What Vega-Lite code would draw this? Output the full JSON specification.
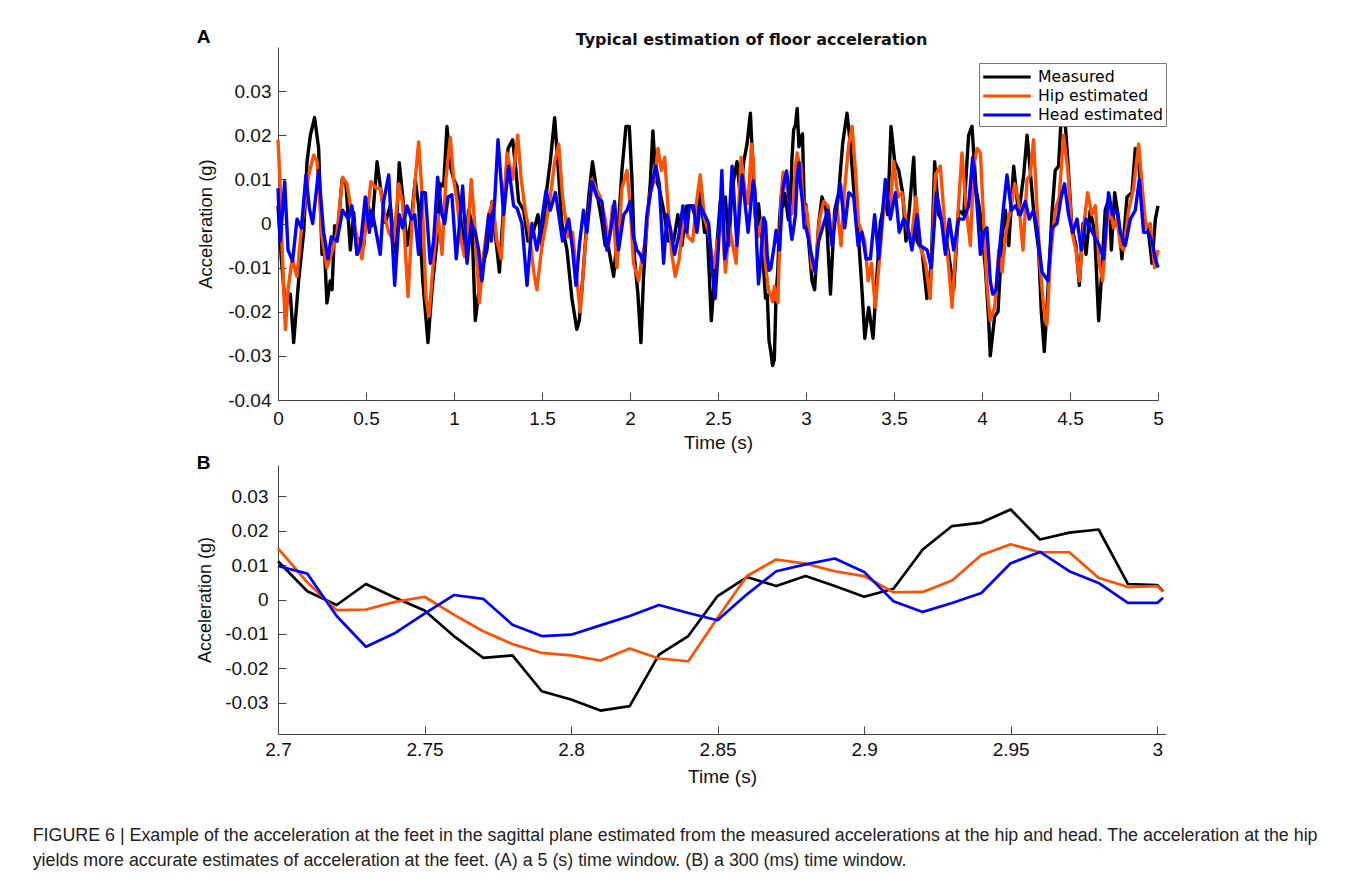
{
"$schema": "https://vega.github.io/schema/vega-lite/v6.json",
"background": "white",
"padding": {"left": 32, "top": 28, "right": 0, "bottom": 0},
"config": {
  "view": {"stroke": null},
  "axis": {"domainColor": "#444", "tickColor": "#444", "labelColor": "#111", "titleColor": "#111", "labelFont": "Liberation Sans", "titleFont": "Liberation Sans", "labelFontSize": 19, "titleFontSize": 18, "titleFontWeight": "normal", "grid": false, "tickSize": -8, "domainWidth": 1, "tickWidth": 1, "labelFlush": false, "labelOverlap": false}
},
"resolve": {"scale": {"color": "independent"}},
"spacing": 2,
"title": {"text": ["FIGURE 6 | Example of the acceleration at the feet in the sagittal plane estimated from the measured accelerations at the hip and head. The acceleration at the hip", "yields more accurate estimates of acceleration at the feet. (A) a 5 (s) time window. (B) a 300 (ms) time window."], "orient": "bottom", "anchor": "start", "dx": -164, "offset": 41, "fontSize": 17.85, "font": "Liberation Sans", "fontWeight": "normal", "color": "#222", "lineHeight": 25},
"datasets": {
"A": [
{"s":"Measured","t":0,"v":0.004},{"s":"Measured","t":0.019,"v":-0.008},{"s":"Measured","t":0.042,"v":-0.019},{"s":"Measured","t":0.07,"v":-0.016},{"s":"Measured","t":0.089,"v":-0.027},{"s":"Measured","t":0.117,"v":-0.013},{"s":"Measured","t":0.146,"v":-0.002},{"s":"Measured","t":0.165,"v":0.014},{"s":"Measured","t":0.184,"v":0.02},{"s":"Measured","t":0.208,"v":0.024},{"s":"Measured","t":0.231,"v":0.017},{"s":"Measured","t":0.25,"v":-0.007},{"s":"Measured","t":0.265,"v":-0.0065},{"s":"Measured","t":0.278,"v":-0.018},{"s":"Measured","t":0.297,"v":-0.013},{"s":"Measured","t":0.307,"v":-0.015},{"s":"Measured","t":0.322,"v":-0.0005},{"s":"Measured","t":0.335,"v":-0.004},{"s":"Measured","t":0.364,"v":0.01},{"s":"Measured","t":0.386,"v":0.009},{"s":"Measured","t":0.411,"v":-0.006},{"s":"Measured","t":0.43,"v":0.0025},{"s":"Measured","t":0.449,"v":-0.007},{"s":"Measured","t":0.468,"v":-0.0035},{"s":"Measured","t":0.487,"v":-0.005},{"s":"Measured","t":0.506,"v":0.0055},{"s":"Measured","t":0.534,"v":-0.0005},{"s":"Measured","t":0.563,"v":0.014},{"s":"Measured","t":0.581,"v":0.0085},{"s":"Measured","t":0.61,"v":0.0002},{"s":"Measured","t":0.638,"v":0.004},{"s":"Measured","t":0.667,"v":-0.0066},{"s":"Measured","t":0.689,"v":0.0138},{"s":"Measured","t":0.708,"v":0.0063},{"s":"Measured","t":0.733,"v":-0.005},{"s":"Measured","t":0.758,"v":0.001},{"s":"Measured","t":0.78,"v":0.01},{"s":"Measured","t":0.799,"v":0.004},{"s":"Measured","t":0.822,"v":-0.0126},{"s":"Measured","t":0.852,"v":-0.027},{"s":"Measured","t":0.875,"v":-0.015},{"s":"Measured","t":0.903,"v":-0.004},{"s":"Measured","t":0.922,"v":0.009},{"s":"Measured","t":0.941,"v":0.0085},{"s":"Measured","t":0.96,"v":0.022},{"s":"Measured","t":0.979,"v":0.013},{"s":"Measured","t":0.998,"v":0.01},{"s":"Measured","t":1.017,"v":0.0085},{"s":"Measured","t":1.041,"v":0},{"s":"Measured","t":1.064,"v":-0.006},{"s":"Measured","t":1.083,"v":0.003},{"s":"Measured","t":1.102,"v":0},{"s":"Measured","t":1.121,"v":-0.022},{"s":"Measured","t":1.136,"v":-0.017},{"s":"Measured","t":1.159,"v":-0.01},{"s":"Measured","t":1.187,"v":-0.006},{"s":"Measured","t":1.216,"v":0.005},{"s":"Measured","t":1.239,"v":-0.004},{"s":"Measured","t":1.258,"v":-0.011},{"s":"Measured","t":1.282,"v":0.004},{"s":"Measured","t":1.307,"v":0.017},{"s":"Measured","t":1.333,"v":0.019},{"s":"Measured","t":1.352,"v":0.012},{"s":"Measured","t":1.367,"v":0.005},{"s":"Measured","t":1.396,"v":0.003},{"s":"Measured","t":1.42,"v":-0.004},{"s":"Measured","t":1.443,"v":-0.003},{"s":"Measured","t":1.477,"v":0.002},{"s":"Measured","t":1.5,"v":-0.005},{"s":"Measured","t":1.528,"v":0.008},{"s":"Measured","t":1.547,"v":0.014},{"s":"Measured","t":1.572,"v":0.024},{"s":"Measured","t":1.591,"v":0.013},{"s":"Measured","t":1.613,"v":0},{"s":"Measured","t":1.642,"v":-0.006},{"s":"Measured","t":1.67,"v":-0.017},{"s":"Measured","t":1.698,"v":-0.024},{"s":"Measured","t":1.712,"v":-0.022},{"s":"Measured","t":1.736,"v":-0.01},{"s":"Measured","t":1.765,"v":0.006},{"s":"Measured","t":1.787,"v":0.014},{"s":"Measured","t":1.812,"v":0.007},{"s":"Measured","t":1.84,"v":0.0005},{"s":"Measured","t":1.859,"v":-0.005},{"s":"Measured","t":1.878,"v":-0.0055},{"s":"Measured","t":1.907,"v":-0.012},{"s":"Measured","t":1.935,"v":0},{"s":"Measured","t":1.954,"v":0.012},{"s":"Measured","t":1.977,"v":0.022},{"s":"Measured","t":1.996,"v":0.022},{"s":"Measured","t":2.011,"v":0.01},{"s":"Measured","t":2.026,"v":-0.008},{"s":"Measured","t":2.045,"v":-0.016},{"s":"Measured","t":2.062,"v":-0.027},{"s":"Measured","t":2.077,"v":-0.012},{"s":"Measured","t":2.096,"v":0},{"s":"Measured","t":2.115,"v":0.009},{"s":"Measured","t":2.13,"v":0.021},{"s":"Measured","t":2.147,"v":0.01},{"s":"Measured","t":2.166,"v":0.008},{"s":"Measured","t":2.191,"v":0.003},{"s":"Measured","t":2.219,"v":-0.004},{"s":"Measured","t":2.248,"v":-0.004},{"s":"Measured","t":2.272,"v":0.002},{"s":"Measured","t":2.295,"v":-0.005},{"s":"Measured","t":2.323,"v":0.004},{"s":"Measured","t":2.352,"v":0.004},{"s":"Measured","t":2.375,"v":0.001},{"s":"Measured","t":2.399,"v":0.007},{"s":"Measured","t":2.424,"v":-0.002},{"s":"Measured","t":2.437,"v":0},{"s":"Measured","t":2.462,"v":-0.022},{"s":"Measured","t":2.484,"v":-0.01},{"s":"Measured","t":2.513,"v":0.005},{"s":"Measured","t":2.542,"v":0.006},{"s":"Measured","t":2.561,"v":-0.005},{"s":"Measured","t":2.58,"v":0.008},{"s":"Measured","t":2.608,"v":0.014},{"s":"Measured","t":2.627,"v":0.006},{"s":"Measured","t":2.646,"v":0.014},{"s":"Measured","t":2.665,"v":0.018},{"s":"Measured","t":2.684,"v":0.025},
{"s":"Measured","t":2.7,"v":0.0111},{"s":"Measured","t":2.71,"v":0.0024},{"s":"Measured","t":2.72,"v":-0.0016},{"s":"Measured","t":2.73,"v":0.0045},{"s":"Measured","t":2.74,"v":0.0005},{"s":"Measured","t":2.75,"v":-0.0032},{"s":"Measured","t":2.76,"v":-0.0106},{"s":"Measured","t":2.77,"v":-0.0169},{"s":"Measured","t":2.78,"v":-0.0162},{"s":"Measured","t":2.79,"v":-0.0266},{"s":"Measured","t":2.8,"v":-0.029},{"s":"Measured","t":2.81,"v":-0.0322},{"s":"Measured","t":2.82,"v":-0.0309},{"s":"Measured","t":2.83,"v":-0.016},{"s":"Measured","t":2.84,"v":-0.0106},{"s":"Measured","t":2.85,"v":0.001},{"s":"Measured","t":2.86,"v":0.0065},{"s":"Measured","t":2.87,"v":0.0039},{"s":"Measured","t":2.88,"v":0.0068},{"s":"Measured","t":2.89,"v":0.0039},{"s":"Measured","t":2.9,"v":0.0008},{"s":"Measured","t":2.91,"v":0.0031},{"s":"Measured","t":2.92,"v":0.0145},{"s":"Measured","t":2.93,"v":0.0213},{"s":"Measured","t":2.94,"v":0.0223},{"s":"Measured","t":2.95,"v":0.0261},{"s":"Measured","t":2.96,"v":0.0174},{"s":"Measured","t":2.97,"v":0.0194},{"s":"Measured","t":2.98,"v":0.0203},{"s":"Measured","t":2.99,"v":0.0045},{"s":"Measured","t":3.0,"v":0.0042},
{"s":"Measured","t":3.015,"v":-0.004},{"s":"Measured","t":3.034,"v":-0.013},{"s":"Measured","t":3.049,"v":-0.015},{"s":"Measured","t":3.072,"v":0},{"s":"Measured","t":3.091,"v":0.006},{"s":"Measured","t":3.114,"v":0.003},{"s":"Measured","t":3.139,"v":-0.016},{"s":"Measured","t":3.163,"v":0.003},{"s":"Measured","t":3.186,"v":0.007},{"s":"Measured","t":3.208,"v":0.018},{"s":"Measured","t":3.233,"v":0.025},{"s":"Measured","t":3.252,"v":0.018},{"s":"Measured","t":3.271,"v":0.008},{"s":"Measured","t":3.3,"v":-0.004},{"s":"Measured","t":3.318,"v":-0.015},{"s":"Measured","t":3.334,"v":-0.026},{"s":"Measured","t":3.356,"v":-0.019},{"s":"Measured","t":3.381,"v":-0.026},{"s":"Measured","t":3.404,"v":-0.011},{"s":"Measured","t":3.422,"v":0},{"s":"Measured","t":3.451,"v":0.006},{"s":"Measured","t":3.464,"v":0.002},{"s":"Measured","t":3.483,"v":0.022},{"s":"Measured","t":3.504,"v":0.014},{"s":"Measured","t":3.527,"v":0.012},{"s":"Measured","t":3.549,"v":0.007},{"s":"Measured","t":3.568,"v":-0.004},{"s":"Measured","t":3.587,"v":0.003},{"s":"Measured","t":3.612,"v":0.015},{"s":"Measured","t":3.631,"v":-0.004},{"s":"Measured","t":3.659,"v":-0.006},{"s":"Measured","t":3.687,"v":-0.017},{"s":"Measured","t":3.712,"v":-0.009},{"s":"Measured","t":3.731,"v":0.014},{"s":"Measured","t":3.754,"v":0.002},{"s":"Measured","t":3.782,"v":0},{"s":"Measured","t":3.811,"v":-0.007},{"s":"Measured","t":3.839,"v":-0.015},{"s":"Measured","t":3.867,"v":0.003},{"s":"Measured","t":3.896,"v":0.002},{"s":"Measured","t":3.924,"v":0.02},{"s":"Measured","t":3.943,"v":0.022},{"s":"Measured","t":3.966,"v":0.008},{"s":"Measured","t":3.991,"v":0.002},{"s":"Measured","t":4.019,"v":-0.01},{"s":"Measured","t":4.038,"v":-0.022},{"s":"Measured","t":4.047,"v":-0.03},{"s":"Measured","t":4.072,"v":-0.021},{"s":"Measured","t":4.091,"v":-0.02},{"s":"Measured","t":4.114,"v":-0.003},{"s":"Measured","t":4.133,"v":0.003},{"s":"Measured","t":4.152,"v":-0.005},{"s":"Measured","t":4.18,"v":0.013},{"s":"Measured","t":4.208,"v":0.002},{"s":"Measured","t":4.237,"v":0.011},{"s":"Measured","t":4.256,"v":0.02},{"s":"Measured","t":4.274,"v":0.012},{"s":"Measured","t":4.293,"v":0.003},{"s":"Measured","t":4.322,"v":-0.006},{"s":"Measured","t":4.337,"v":-0.02},{"s":"Measured","t":4.354,"v":-0.029},{"s":"Measured","t":4.375,"v":-0.015},{"s":"Measured","t":4.397,"v":0.002},{"s":"Measured","t":4.416,"v":0.012},{"s":"Measured","t":4.435,"v":0.013},{"s":"Measured","t":4.45,"v":0.024},{"s":"Measured","t":4.469,"v":0.025},{"s":"Measured","t":4.488,"v":0.014},{"s":"Measured","t":4.511,"v":-0.001},{"s":"Measured","t":4.534,"v":-0.005},{"s":"Measured","t":4.553,"v":-0.014},{"s":"Measured","t":4.574,"v":0},{"s":"Measured","t":4.591,"v":-0.007},{"s":"Measured","t":4.615,"v":0.003},{"s":"Measured","t":4.64,"v":-0.002},{"s":"Measured","t":4.663,"v":-0.022},{"s":"Measured","t":4.682,"v":-0.01},{"s":"Measured","t":4.7,"v":0.003},{"s":"Measured","t":4.723,"v":0.006},{"s":"Measured","t":4.735,"v":-0.006},{"s":"Measured","t":4.754,"v":0.007},{"s":"Measured","t":4.776,"v":0.001},{"s":"Measured","t":4.795,"v":-0.008},{"s":"Measured","t":4.824,"v":0.006},{"s":"Measured","t":4.852,"v":0.007},{"s":"Measured","t":4.871,"v":0.017},{"s":"Measured","t":4.89,"v":0.014},{"s":"Measured","t":4.918,"v":0.001},{"s":"Measured","t":4.943,"v":-0.001},{"s":"Measured","t":4.966,"v":-0.009},{"s":"Measured","t":4.985,"v":0.001},{"s":"Measured","t":5,"v":0.004},
{"s":"Hip estimated","t":0,"v":0.019},{"s":"Hip estimated","t":0.013,"v":0.008},{"s":"Hip estimated","t":0.023,"v":-0.005},{"s":"Hip estimated","t":0.042,"v":-0.024},{"s":"Hip estimated","t":0.057,"v":-0.015},{"s":"Hip estimated","t":0.08,"v":-0.008},{"s":"Hip estimated","t":0.108,"v":-0.012},{"s":"Hip estimated","t":0.136,"v":0},{"s":"Hip estimated","t":0.174,"v":0.011},{"s":"Hip estimated","t":0.203,"v":0.0155},{"s":"Hip estimated","t":0.222,"v":0.014},{"s":"Hip estimated","t":0.25,"v":-0.003},{"s":"Hip estimated","t":0.278,"v":-0.01},{"s":"Hip estimated","t":0.311,"v":-0.006},{"s":"Hip estimated","t":0.335,"v":-0.002},{"s":"Hip estimated","t":0.367,"v":0.0105},{"s":"Hip estimated","t":0.392,"v":0.009},{"s":"Hip estimated","t":0.42,"v":0.002},{"s":"Hip estimated","t":0.449,"v":-0.003},{"s":"Hip estimated","t":0.477,"v":-0.008},{"s":"Hip estimated","t":0.506,"v":0.002},{"s":"Hip estimated","t":0.528,"v":0.0095},{"s":"Hip estimated","t":0.557,"v":0.008},{"s":"Hip estimated","t":0.581,"v":0.008},{"s":"Hip estimated","t":0.61,"v":0.001},{"s":"Hip estimated","t":0.629,"v":-0.002},{"s":"Hip estimated","t":0.657,"v":-0.004},{"s":"Hip estimated","t":0.686,"v":0.009},{"s":"Hip estimated","t":0.708,"v":0.0045},{"s":"Hip estimated","t":0.739,"v":-0.0165},{"s":"Hip estimated","t":0.761,"v":0},{"s":"Hip estimated","t":0.78,"v":0.01},{"s":"Hip estimated","t":0.799,"v":0.0185},{"s":"Hip estimated","t":0.818,"v":0.007},{"s":"Hip estimated","t":0.841,"v":-0.017},{"s":"Hip estimated","t":0.858,"v":-0.021},{"s":"Hip estimated","t":0.884,"v":-0.008},{"s":"Hip estimated","t":0.909,"v":0.002},{"s":"Hip estimated","t":0.932,"v":-0.007},{"s":"Hip estimated","t":0.954,"v":0.01},{"s":"Hip estimated","t":0.979,"v":0.0195},{"s":"Hip estimated","t":0.998,"v":0.01},{"s":"Hip estimated","t":1.017,"v":0.005},{"s":"Hip estimated","t":1.041,"v":-0.004},{"s":"Hip estimated","t":1.06,"v":-0.0075},{"s":"Hip estimated","t":1.083,"v":0.001},{"s":"Hip estimated","t":1.098,"v":0.01},{"s":"Hip estimated","t":1.121,"v":-0.002},{"s":"Hip estimated","t":1.144,"v":-0.018},{"s":"Hip estimated","t":1.168,"v":-0.007},{"s":"Hip estimated","t":1.197,"v":0.002},{"s":"Hip estimated","t":1.22,"v":0.005},{"s":"Hip estimated","t":1.244,"v":-0.004},{"s":"Hip estimated","t":1.269,"v":-0.008},{"s":"Hip estimated","t":1.301,"v":0.016},{"s":"Hip estimated","t":1.333,"v":0.01},{"s":"Hip estimated","t":1.362,"v":0.02},{"s":"Hip estimated","t":1.382,"v":0.01},{"s":"Hip estimated","t":1.405,"v":0.003},{"s":"Hip estimated","t":1.428,"v":-0.002},{"s":"Hip estimated","t":1.453,"v":-0.011},{"s":"Hip estimated","t":1.471,"v":-0.015},{"s":"Hip estimated","t":1.5,"v":-0.005},{"s":"Hip estimated","t":1.523,"v":0},{"s":"Hip estimated","t":1.547,"v":0.006},{"s":"Hip estimated","t":1.572,"v":0.014},{"s":"Hip estimated","t":1.595,"v":0.018},{"s":"Hip estimated","t":1.617,"v":0.006},{"s":"Hip estimated","t":1.648,"v":-0.003},{"s":"Hip estimated","t":1.674,"v":-0.002},{"s":"Hip estimated","t":1.699,"v":-0.013},{"s":"Hip estimated","t":1.717,"v":-0.02},{"s":"Hip estimated","t":1.746,"v":-0.005},{"s":"Hip estimated","t":1.784,"v":0.01},{"s":"Hip estimated","t":1.806,"v":0.008},{"s":"Hip estimated","t":1.831,"v":0.006},{"s":"Hip estimated","t":1.859,"v":0.001},{"s":"Hip estimated","t":1.878,"v":-0.005},{"s":"Hip estimated","t":1.901,"v":0.004},{"s":"Hip estimated","t":1.926,"v":-0.01},{"s":"Hip estimated","t":1.954,"v":0.008},{"s":"Hip estimated","t":1.983,"v":0.012},{"s":"Hip estimated","t":2.001,"v":0.004},{"s":"Hip estimated","t":2.02,"v":-0.009},{"s":"Hip estimated","t":2.049,"v":-0.013},{"s":"Hip estimated","t":2.068,"v":-0.008},{"s":"Hip estimated","t":2.087,"v":-0.004},{"s":"Hip estimated","t":2.115,"v":0.007},{"s":"Hip estimated","t":2.14,"v":0.01},{"s":"Hip estimated","t":2.159,"v":0.017},{"s":"Hip estimated","t":2.178,"v":0.012},{"s":"Hip estimated","t":2.197,"v":0.015},{"s":"Hip estimated","t":2.219,"v":0.002},{"s":"Hip estimated","t":2.238,"v":-0.007},{"s":"Hip estimated","t":2.257,"v":-0.012},{"s":"Hip estimated","t":2.28,"v":-0.008},{"s":"Hip estimated","t":2.305,"v":0.002},{"s":"Hip estimated","t":2.329,"v":-0.003},{"s":"Hip estimated","t":2.356,"v":-0.004},{"s":"Hip estimated","t":2.375,"v":0.004},{"s":"Hip estimated","t":2.399,"v":0.011},{"s":"Hip estimated","t":2.424,"v":0.001},{"s":"Hip estimated","t":2.447,"v":-0.002},{"s":"Hip estimated","t":2.475,"v":-0.01},{"s":"Hip estimated","t":2.503,"v":-0.003},{"s":"Hip estimated","t":2.52,"v":0.003},{"s":"Hip estimated","t":2.542,"v":-0.011},{"s":"Hip estimated","t":2.565,"v":-0.001},{"s":"Hip estimated","t":2.58,"v":-0.004},{"s":"Hip estimated","t":2.603,"v":-0.009},{"s":"Hip estimated","t":2.631,"v":0.015},{"s":"Hip estimated","t":2.652,"v":0.008},{"s":"Hip estimated","t":2.671,"v":0.0045},{"s":"Hip estimated","t":2.69,"v":0.018},
{"s":"Hip estimated","t":2.7,"v":0.0148},{"s":"Hip estimated","t":2.71,"v":0.005},{"s":"Hip estimated","t":2.72,"v":-0.0031},{"s":"Hip estimated","t":2.73,"v":-0.0029},{"s":"Hip estimated","t":2.74,"v":-0.0007},{"s":"Hip estimated","t":2.75,"v":0.0008},{"s":"Hip estimated","t":2.76,"v":-0.0044},{"s":"Hip estimated","t":2.77,"v":-0.0092},{"s":"Hip estimated","t":2.78,"v":-0.0129},{"s":"Hip estimated","t":2.79,"v":-0.0155},{"s":"Hip estimated","t":2.8,"v":-0.0162},{"s":"Hip estimated","t":2.81,"v":-0.0177},{"s":"Hip estimated","t":2.82,"v":-0.0142},{"s":"Hip estimated","t":2.83,"v":-0.0171},{"s":"Hip estimated","t":2.84,"v":-0.0179},{"s":"Hip estimated","t":2.85,"v":-0.0053},{"s":"Hip estimated","t":2.86,"v":0.0068},{"s":"Hip estimated","t":2.87,"v":0.0116},{"s":"Hip estimated","t":2.88,"v":0.0104},{"s":"Hip estimated","t":2.89,"v":0.0082},{"s":"Hip estimated","t":2.9,"v":0.0068},{"s":"Hip estimated","t":2.91,"v":0.0021},{"s":"Hip estimated","t":2.92,"v":0.0022},{"s":"Hip estimated","t":2.93,"v":0.0055},{"s":"Hip estimated","t":2.94,"v":0.0129},{"s":"Hip estimated","t":2.95,"v":0.016},{"s":"Hip estimated","t":2.96,"v":0.0137},{"s":"Hip estimated","t":2.97,"v":0.0137},{"s":"Hip estimated","t":2.98,"v":0.0063},{"s":"Hip estimated","t":2.99,"v":0.0036},{"s":"Hip estimated","t":3.0,"v":0.0039},
{"s":"Hip estimated","t":3.015,"v":-0.001},{"s":"Hip estimated","t":3.034,"v":-0.01},{"s":"Hip estimated","t":3.053,"v":-0.011},{"s":"Hip estimated","t":3.076,"v":0.001},{"s":"Hip estimated","t":3.101,"v":0.005},{"s":"Hip estimated","t":3.125,"v":0.004},{"s":"Hip estimated","t":3.148,"v":-0.003},{"s":"Hip estimated","t":3.176,"v":0.004},{"s":"Hip estimated","t":3.199,"v":-0.005},{"s":"Hip estimated","t":3.22,"v":0.008},{"s":"Hip estimated","t":3.243,"v":0.018},{"s":"Hip estimated","t":3.262,"v":0.022},{"s":"Hip estimated","t":3.281,"v":0.012},{"s":"Hip estimated","t":3.299,"v":0},{"s":"Hip estimated","t":3.318,"v":-0.002},{"s":"Hip estimated","t":3.334,"v":-0.004},{"s":"Hip estimated","t":3.353,"v":-0.013},{"s":"Hip estimated","t":3.372,"v":-0.009},{"s":"Hip estimated","t":3.394,"v":-0.019},{"s":"Hip estimated","t":3.422,"v":-0.006},{"s":"Hip estimated","t":3.451,"v":0.008},{"s":"Hip estimated","t":3.479,"v":0.004},{"s":"Hip estimated","t":3.498,"v":0.014},{"s":"Hip estimated","t":3.523,"v":0.006},{"s":"Hip estimated","t":3.545,"v":0.007},{"s":"Hip estimated","t":3.574,"v":-0.001},{"s":"Hip estimated","t":3.598,"v":-0.004},{"s":"Hip estimated","t":3.625,"v":0.006},{"s":"Hip estimated","t":3.65,"v":-0.005},{"s":"Hip estimated","t":3.678,"v":-0.009},{"s":"Hip estimated","t":3.706,"v":-0.017},{"s":"Hip estimated","t":3.735,"v":0.011},{"s":"Hip estimated","t":3.763,"v":0.013},{"s":"Hip estimated","t":3.792,"v":-0.002},{"s":"Hip estimated","t":3.811,"v":-0.01},{"s":"Hip estimated","t":3.83,"v":-0.019},{"s":"Hip estimated","t":3.858,"v":-0.001},{"s":"Hip estimated","t":3.886,"v":0.016},{"s":"Hip estimated","t":3.909,"v":0.004},{"s":"Hip estimated","t":3.934,"v":-0.005},{"s":"Hip estimated","t":3.953,"v":0.013},{"s":"Hip estimated","t":3.972,"v":0.017},{"s":"Hip estimated","t":3.991,"v":0.016},{"s":"Hip estimated","t":4.01,"v":0},{"s":"Hip estimated","t":4.028,"v":-0.014},{"s":"Hip estimated","t":4.047,"v":-0.022},{"s":"Hip estimated","t":4.072,"v":-0.019},{"s":"Hip estimated","t":4.095,"v":-0.006},{"s":"Hip estimated","t":4.114,"v":-0.011},{"s":"Hip estimated","t":4.136,"v":-0.002},{"s":"Hip estimated","t":4.161,"v":0.003},{"s":"Hip estimated","t":4.186,"v":0.009},{"s":"Hip estimated","t":4.208,"v":0.005},{"s":"Hip estimated","t":4.233,"v":-0.006},{"s":"Hip estimated","t":4.256,"v":0.01},{"s":"Hip estimated","t":4.274,"v":0.011},{"s":"Hip estimated","t":4.293,"v":0.019},{"s":"Hip estimated","t":4.312,"v":0.004},{"s":"Hip estimated","t":4.331,"v":-0.01},{"s":"Hip estimated","t":4.35,"v":-0.019},{"s":"Hip estimated","t":4.369,"v":-0.023},{"s":"Hip estimated","t":4.388,"v":-0.008},{"s":"Hip estimated","t":4.416,"v":0.003},{"s":"Hip estimated","t":4.439,"v":0.006},{"s":"Hip estimated","t":4.463,"v":0.02},{"s":"Hip estimated","t":4.488,"v":0.012},{"s":"Hip estimated","t":4.511,"v":-0.002},{"s":"Hip estimated","t":4.534,"v":-0.006},{"s":"Hip estimated","t":4.553,"v":-0.013},{"s":"Hip estimated","t":4.577,"v":-0.001},{"s":"Hip estimated","t":4.6,"v":0.007},{"s":"Hip estimated","t":4.624,"v":0.002},{"s":"Hip estimated","t":4.644,"v":0.004},{"s":"Hip estimated","t":4.666,"v":-0.009},{"s":"Hip estimated","t":4.685,"v":-0.013},{"s":"Hip estimated","t":4.71,"v":0},{"s":"Hip estimated","t":4.729,"v":0.003},{"s":"Hip estimated","t":4.748,"v":-0.001},{"s":"Hip estimated","t":4.767,"v":0.001},{"s":"Hip estimated","t":4.786,"v":-0.005},{"s":"Hip estimated","t":4.805,"v":-0.006},{"s":"Hip estimated","t":4.833,"v":0.003},{"s":"Hip estimated","t":4.861,"v":0.008},{"s":"Hip estimated","t":4.89,"v":0.018},{"s":"Hip estimated","t":4.913,"v":0.007},{"s":"Hip estimated","t":4.932,"v":-0.001},{"s":"Hip estimated","t":4.956,"v":0},{"s":"Hip estimated","t":4.981,"v":-0.01},{"s":"Hip estimated","t":5,"v":-0.006},
{"s":"Head estimated","t":0,"v":0.008},{"s":"Head estimated","t":0.013,"v":-0.004},{"s":"Head estimated","t":0.038,"v":0.0095},{"s":"Head estimated","t":0.057,"v":-0.006},{"s":"Head estimated","t":0.083,"v":-0.0085},{"s":"Head estimated","t":0.108,"v":0.001},{"s":"Head estimated","t":0.133,"v":-0.001},{"s":"Head estimated","t":0.159,"v":0.011},{"s":"Head estimated","t":0.178,"v":0.0035},{"s":"Head estimated","t":0.197,"v":0},{"s":"Head estimated","t":0.231,"v":0.012},{"s":"Head estimated","t":0.259,"v":-0.002},{"s":"Head estimated","t":0.284,"v":-0.008},{"s":"Head estimated","t":0.303,"v":-0.003},{"s":"Head estimated","t":0.335,"v":-0.004},{"s":"Head estimated","t":0.367,"v":0.003},{"s":"Head estimated","t":0.4,"v":0.001},{"s":"Head estimated","t":0.42,"v":0.004},{"s":"Head estimated","t":0.449,"v":-0.007},{"s":"Head estimated","t":0.468,"v":-0.005},{"s":"Head estimated","t":0.496,"v":0.006},{"s":"Head estimated","t":0.519,"v":-0.002},{"s":"Head estimated","t":0.534,"v":0.003},{"s":"Head estimated","t":0.553,"v":-0.001},{"s":"Head estimated","t":0.581,"v":-0.007},{"s":"Head estimated","t":0.6,"v":0.005},{"s":"Head estimated","t":0.629,"v":0.011},{"s":"Head estimated","t":0.663,"v":-0.014},{"s":"Head estimated","t":0.689,"v":0.002},{"s":"Head estimated","t":0.708,"v":-0.001},{"s":"Head estimated","t":0.733,"v":0.004},{"s":"Head estimated","t":0.758,"v":0.001},{"s":"Head estimated","t":0.777,"v":0.002},{"s":"Head estimated","t":0.799,"v":-0.007},{"s":"Head estimated","t":0.818,"v":0.007},{"s":"Head estimated","t":0.837,"v":0.007},{"s":"Head estimated","t":0.865,"v":-0.009},{"s":"Head estimated","t":0.884,"v":-0.004},{"s":"Head estimated","t":0.907,"v":0.0105},{"s":"Head estimated","t":0.932,"v":0.002},{"s":"Head estimated","t":0.947,"v":0},{"s":"Head estimated","t":0.966,"v":0.006},{"s":"Head estimated","t":0.988,"v":0.0065},{"s":"Head estimated","t":1.013,"v":-0.008},{"s":"Head estimated","t":1.036,"v":0.002},{"s":"Head estimated","t":1.049,"v":0.0085},{"s":"Head estimated","t":1.074,"v":-0.009},{"s":"Head estimated","t":1.098,"v":0},{"s":"Head estimated","t":1.121,"v":-0.002},{"s":"Head estimated","t":1.14,"v":-0.006},{"s":"Head estimated","t":1.159,"v":-0.013},{"s":"Head estimated","t":1.178,"v":-0.006},{"s":"Head estimated","t":1.197,"v":0.002},{"s":"Head estimated","t":1.212,"v":-0.004},{"s":"Head estimated","t":1.231,"v":0.005},{"s":"Head estimated","t":1.25,"v":0.019},{"s":"Head estimated","t":1.282,"v":0.002},{"s":"Head estimated","t":1.31,"v":0.013},{"s":"Head estimated","t":1.339,"v":0.004},{"s":"Head estimated","t":1.358,"v":0.0035},{"s":"Head estimated","t":1.386,"v":0},{"s":"Head estimated","t":1.415,"v":-0.014},{"s":"Head estimated","t":1.443,"v":0},{"s":"Head estimated","t":1.471,"v":-0.006},{"s":"Head estimated","t":1.496,"v":0},{"s":"Head estimated","t":1.523,"v":0.0075},{"s":"Head estimated","t":1.547,"v":0.003},{"s":"Head estimated","t":1.576,"v":0.007},{"s":"Head estimated","t":1.595,"v":0.002},{"s":"Head estimated","t":1.617,"v":-0.004},{"s":"Head estimated","t":1.652,"v":0.001},{"s":"Head estimated","t":1.674,"v":-0.006},{"s":"Head estimated","t":1.693,"v":-0.014},{"s":"Head estimated","t":1.712,"v":-0.005},{"s":"Head estimated","t":1.736,"v":0.003},{"s":"Head estimated","t":1.755,"v":-0.002},{"s":"Head estimated","t":1.784,"v":0.0095},{"s":"Head estimated","t":1.812,"v":0.006},{"s":"Head estimated","t":1.84,"v":0.005},{"s":"Head estimated","t":1.869,"v":-0.006},{"s":"Head estimated","t":1.893,"v":-0.001},{"s":"Head estimated","t":1.912,"v":0.005},{"s":"Head estimated","t":1.935,"v":-0.006},{"s":"Head estimated","t":1.964,"v":0.002},{"s":"Head estimated","t":1.983,"v":0.003},{"s":"Head estimated","t":2.001,"v":0.005},{"s":"Head estimated","t":2.02,"v":-0.003},{"s":"Head estimated","t":2.039,"v":-0.006},{"s":"Head estimated","t":2.058,"v":-0.007},{"s":"Head estimated","t":2.077,"v":-0.009},{"s":"Head estimated","t":2.096,"v":0.002},{"s":"Head estimated","t":2.121,"v":0.008},{"s":"Head estimated","t":2.147,"v":0.013},{"s":"Head estimated","t":2.166,"v":0.009},{"s":"Head estimated","t":2.191,"v":-0.009},{"s":"Head estimated","t":2.21,"v":0.002},{"s":"Head estimated","t":2.229,"v":-0.001},{"s":"Head estimated","t":2.253,"v":-0.007},{"s":"Head estimated","t":2.276,"v":-0.003},{"s":"Head estimated","t":2.301,"v":0.004},{"s":"Head estimated","t":2.323,"v":-0.002},{"s":"Head estimated","t":2.337,"v":0.004},{"s":"Head estimated","t":2.361,"v":0.004},{"s":"Head estimated","t":2.38,"v":-0.002},{"s":"Head estimated","t":2.399,"v":0.004},{"s":"Head estimated","t":2.424,"v":0.002},{"s":"Head estimated","t":2.447,"v":0},{"s":"Head estimated","t":2.465,"v":-0.01},{"s":"Head estimated","t":2.484,"v":-0.017},{"s":"Head estimated","t":2.503,"v":-0.005},{"s":"Head estimated","t":2.522,"v":0.012},{"s":"Head estimated","t":2.538,"v":-0.008},{"s":"Head estimated","t":2.557,"v":-0.004},{"s":"Head estimated","t":2.58,"v":0.013},{"s":"Head estimated","t":2.608,"v":-0.005},{"s":"Head estimated","t":2.637,"v":0.011},{"s":"Head estimated","t":2.671,"v":-0.002},
{"s":"Head estimated","t":2.7,"v":0.0097},{"s":"Head estimated","t":2.71,"v":0.0075},{"s":"Head estimated","t":2.72,"v":-0.0048},{"s":"Head estimated","t":2.73,"v":-0.0137},{"s":"Head estimated","t":2.74,"v":-0.0097},{"s":"Head estimated","t":2.75,"v":-0.0041},{"s":"Head estimated","t":2.76,"v":0.0013},{"s":"Head estimated","t":2.77,"v":0.0002},{"s":"Head estimated","t":2.78,"v":-0.0073},{"s":"Head estimated","t":2.79,"v":-0.0106},{"s":"Head estimated","t":2.8,"v":-0.0102},{"s":"Head estimated","t":2.81,"v":-0.0075},{"s":"Head estimated","t":2.82,"v":-0.0048},{"s":"Head estimated","t":2.83,"v":-0.0016},{"s":"Head estimated","t":2.84,"v":-0.0039},{"s":"Head estimated","t":2.85,"v":-0.006},{"s":"Head estimated","t":2.86,"v":0.0015},{"s":"Head estimated","t":2.87,"v":0.0082},{"s":"Head estimated","t":2.88,"v":0.0102},{"s":"Head estimated","t":2.89,"v":0.0119},{"s":"Head estimated","t":2.9,"v":0.008},{"s":"Head estimated","t":2.91,"v":-0.0005},{"s":"Head estimated","t":2.92,"v":-0.0036},{"s":"Head estimated","t":2.93,"v":-0.001},{"s":"Head estimated","t":2.94,"v":0.0019},{"s":"Head estimated","t":2.95,"v":0.0105},{"s":"Head estimated","t":2.96,"v":0.0138},{"s":"Head estimated","t":2.97,"v":0.0082},{"s":"Head estimated","t":2.98,"v":0.0048},{"s":"Head estimated","t":2.99,"v":-0.001},{"s":"Head estimated","t":3.0,"v":-0.001},
{"s":"Head estimated","t":3.012,"v":-0.003},{"s":"Head estimated","t":3.025,"v":-0.006},{"s":"Head estimated","t":3.053,"v":-0.011},{"s":"Head estimated","t":3.072,"v":-0.004},{"s":"Head estimated","t":3.101,"v":0},{"s":"Head estimated","t":3.125,"v":0.003},{"s":"Head estimated","t":3.148,"v":-0.005},{"s":"Head estimated","t":3.176,"v":0.004},{"s":"Head estimated","t":3.195,"v":0.009},{"s":"Head estimated","t":3.22,"v":-0.001},{"s":"Head estimated","t":3.243,"v":0.007},{"s":"Head estimated","t":3.271,"v":0.006},{"s":"Head estimated","t":3.296,"v":-0.005},{"s":"Head estimated","t":3.318,"v":-0.002},{"s":"Head estimated","t":3.341,"v":-0.008},{"s":"Head estimated","t":3.366,"v":-0.008},{"s":"Head estimated","t":3.39,"v":0.002},{"s":"Head estimated","t":3.413,"v":-0.008},{"s":"Head estimated","t":3.451,"v":0.01},{"s":"Head estimated","t":3.479,"v":0.001},{"s":"Head estimated","t":3.508,"v":0.007},{"s":"Head estimated","t":3.53,"v":-0.002},{"s":"Head estimated","t":3.555,"v":0.001},{"s":"Head estimated","t":3.574,"v":0},{"s":"Head estimated","t":3.602,"v":-0.006},{"s":"Head estimated","t":3.631,"v":0.002},{"s":"Head estimated","t":3.65,"v":-0.005},{"s":"Head estimated","t":3.688,"v":-0.006},{"s":"Head estimated","t":3.712,"v":-0.01},{"s":"Head estimated","t":3.741,"v":0.007},{"s":"Head estimated","t":3.769,"v":0.001},{"s":"Head estimated","t":3.792,"v":-0.007},{"s":"Head estimated","t":3.814,"v":0.001},{"s":"Head estimated","t":3.839,"v":-0.006},{"s":"Head estimated","t":3.867,"v":0.001},{"s":"Head estimated","t":3.896,"v":0.001},{"s":"Head estimated","t":3.924,"v":0.004},{"s":"Head estimated","t":3.947,"v":0.015},{"s":"Head estimated","t":3.972,"v":0.004},{"s":"Head estimated","t":3.991,"v":-0.007},{"s":"Head estimated","t":4.01,"v":-0.002},{"s":"Head estimated","t":4.028,"v":-0.001},{"s":"Head estimated","t":4.047,"v":-0.013},{"s":"Head estimated","t":4.061,"v":-0.016},{"s":"Head estimated","t":4.08,"v":-0.015},{"s":"Head estimated","t":4.104,"v":-0.004},{"s":"Head estimated","t":4.123,"v":0.004},{"s":"Head estimated","t":4.142,"v":0.011},{"s":"Head estimated","t":4.167,"v":0.003},{"s":"Head estimated","t":4.189,"v":0.004},{"s":"Head estimated","t":4.218,"v":0.002},{"s":"Head estimated","t":4.246,"v":0.005},{"s":"Head estimated","t":4.269,"v":0.001},{"s":"Head estimated","t":4.293,"v":0.003},{"s":"Head estimated","t":4.312,"v":-0.001},{"s":"Head estimated","t":4.341,"v":-0.011},{"s":"Head estimated","t":4.375,"v":-0.013},{"s":"Head estimated","t":4.397,"v":-0.001},{"s":"Head estimated","t":4.426,"v":0},{"s":"Head estimated","t":4.45,"v":0.006},{"s":"Head estimated","t":4.469,"v":0.009},{"s":"Head estimated","t":4.492,"v":0.002},{"s":"Head estimated","t":4.515,"v":-0.002},{"s":"Head estimated","t":4.54,"v":0.001},{"s":"Head estimated","t":4.564,"v":-0.006},{"s":"Head estimated","t":4.591,"v":0.001},{"s":"Head estimated","t":4.615,"v":-0.001},{"s":"Head estimated","t":4.64,"v":-0.003},{"s":"Head estimated","t":4.667,"v":-0.005},{"s":"Head estimated","t":4.691,"v":-0.008},{"s":"Head estimated","t":4.719,"v":0.007},{"s":"Head estimated","t":4.742,"v":0.002},{"s":"Head estimated","t":4.767,"v":0.003},{"s":"Head estimated","t":4.786,"v":-0.002},{"s":"Head estimated","t":4.814,"v":-0.005},{"s":"Head estimated","t":4.843,"v":0.001},{"s":"Head estimated","t":4.871,"v":0.003},{"s":"Head estimated","t":4.894,"v":0.01},{"s":"Head estimated","t":4.918,"v":-0.002},{"s":"Head estimated","t":4.943,"v":-0.002},{"s":"Head estimated","t":4.966,"v":-0.004},{"s":"Head estimated","t":4.985,"v":-0.008},{"s":"Head estimated","t":5,"v":-0.01}
],
"B": [
{"s":"Measured","t":2.7,"v":0.0111},{"s":"Measured","t":2.71,"v":0.0024},{"s":"Measured","t":2.72,"v":-0.0016},{"s":"Measured","t":2.73,"v":0.0045},{"s":"Measured","t":2.74,"v":0.0005},{"s":"Measured","t":2.75,"v":-0.0032},{"s":"Measured","t":2.76,"v":-0.0106},{"s":"Measured","t":2.77,"v":-0.0169},{"s":"Measured","t":2.78,"v":-0.0162},{"s":"Measured","t":2.79,"v":-0.0266},{"s":"Measured","t":2.8,"v":-0.029},{"s":"Measured","t":2.81,"v":-0.0322},{"s":"Measured","t":2.82,"v":-0.0309},{"s":"Measured","t":2.83,"v":-0.016},{"s":"Measured","t":2.84,"v":-0.0106},{"s":"Measured","t":2.85,"v":0.001},{"s":"Measured","t":2.86,"v":0.0065},{"s":"Measured","t":2.87,"v":0.0039},{"s":"Measured","t":2.88,"v":0.0068},{"s":"Measured","t":2.89,"v":0.0039},{"s":"Measured","t":2.9,"v":0.0008},{"s":"Measured","t":2.91,"v":0.0031},{"s":"Measured","t":2.92,"v":0.0145},{"s":"Measured","t":2.93,"v":0.0213},{"s":"Measured","t":2.94,"v":0.0223},{"s":"Measured","t":2.95,"v":0.0261},{"s":"Measured","t":2.96,"v":0.0174},{"s":"Measured","t":2.97,"v":0.0194},{"s":"Measured","t":2.98,"v":0.0203},{"s":"Measured","t":2.99,"v":0.0045},{"s":"Measured","t":3.0,"v":0.0042},{"s":"Measured","t":3.002,"v":0.0024},
{"s":"Hip estimated","t":2.7,"v":0.0148},{"s":"Hip estimated","t":2.71,"v":0.005},{"s":"Hip estimated","t":2.72,"v":-0.0031},{"s":"Hip estimated","t":2.73,"v":-0.0029},{"s":"Hip estimated","t":2.74,"v":-0.0007},{"s":"Hip estimated","t":2.75,"v":0.0008},{"s":"Hip estimated","t":2.76,"v":-0.0044},{"s":"Hip estimated","t":2.77,"v":-0.0092},{"s":"Hip estimated","t":2.78,"v":-0.0129},{"s":"Hip estimated","t":2.79,"v":-0.0155},{"s":"Hip estimated","t":2.8,"v":-0.0162},{"s":"Hip estimated","t":2.81,"v":-0.0177},{"s":"Hip estimated","t":2.82,"v":-0.0142},{"s":"Hip estimated","t":2.83,"v":-0.0171},{"s":"Hip estimated","t":2.84,"v":-0.0179},{"s":"Hip estimated","t":2.85,"v":-0.0053},{"s":"Hip estimated","t":2.86,"v":0.0068},{"s":"Hip estimated","t":2.87,"v":0.0116},{"s":"Hip estimated","t":2.88,"v":0.0104},{"s":"Hip estimated","t":2.89,"v":0.0082},{"s":"Hip estimated","t":2.9,"v":0.0068},{"s":"Hip estimated","t":2.91,"v":0.0021},{"s":"Hip estimated","t":2.92,"v":0.0022},{"s":"Hip estimated","t":2.93,"v":0.0055},{"s":"Hip estimated","t":2.94,"v":0.0129},{"s":"Hip estimated","t":2.95,"v":0.016},{"s":"Hip estimated","t":2.96,"v":0.0137},{"s":"Hip estimated","t":2.97,"v":0.0137},{"s":"Hip estimated","t":2.98,"v":0.0063},{"s":"Hip estimated","t":2.99,"v":0.0036},{"s":"Hip estimated","t":3.0,"v":0.0039},{"s":"Hip estimated","t":3.002,"v":0.0022},
{"s":"Head estimated","t":2.7,"v":0.0097},{"s":"Head estimated","t":2.71,"v":0.0075},{"s":"Head estimated","t":2.72,"v":-0.0048},{"s":"Head estimated","t":2.73,"v":-0.0137},{"s":"Head estimated","t":2.74,"v":-0.0097},{"s":"Head estimated","t":2.75,"v":-0.0041},{"s":"Head estimated","t":2.76,"v":0.0013},{"s":"Head estimated","t":2.77,"v":0.0002},{"s":"Head estimated","t":2.78,"v":-0.0073},{"s":"Head estimated","t":2.79,"v":-0.0106},{"s":"Head estimated","t":2.8,"v":-0.0102},{"s":"Head estimated","t":2.81,"v":-0.0075},{"s":"Head estimated","t":2.82,"v":-0.0048},{"s":"Head estimated","t":2.83,"v":-0.0016},{"s":"Head estimated","t":2.84,"v":-0.0039},{"s":"Head estimated","t":2.85,"v":-0.006},{"s":"Head estimated","t":2.86,"v":0.0015},{"s":"Head estimated","t":2.87,"v":0.0082},{"s":"Head estimated","t":2.88,"v":0.0102},{"s":"Head estimated","t":2.89,"v":0.0119},{"s":"Head estimated","t":2.9,"v":0.008},{"s":"Head estimated","t":2.91,"v":-0.0005},{"s":"Head estimated","t":2.92,"v":-0.0036},{"s":"Head estimated","t":2.93,"v":-0.001},{"s":"Head estimated","t":2.94,"v":0.0019},{"s":"Head estimated","t":2.95,"v":0.0105},{"s":"Head estimated","t":2.96,"v":0.0138},{"s":"Head estimated","t":2.97,"v":0.0082},{"s":"Head estimated","t":2.98,"v":0.0048},{"s":"Head estimated","t":2.99,"v":-0.001},{"s":"Head estimated","t":3.0,"v":-0.001},{"s":"Head estimated","t":3.002,"v":0.0005}
]
},
"vconcat": [
{
  "width": 880, "height": 353,
  "data": {"name": "A"},
  "title": {"text": "A", "anchor": "start", "frame": "bounds", "font": "Liberation Sans", "fontSize": 19, "fontWeight": "bold", "color": "#000", "offset": -16},
  "layer": [
    {
      "mark": {"type": "line", "strokeWidth": 3.4, "strokeJoin": "round"},
      "encoding": {
        "x": {"field": "t", "type": "quantitative", "scale": {"domain": [0, 5], "nice": false, "zero": false},
              "axis": {"values": [0, 0.5, 1, 1.5, 2, 2.5, 3, 3.5, 4, 4.5, 5], "labelExpr": "'' + datum.value", "title": "Time (s)", "labelPadding": 17, "titlePadding": 5, "titleFontSize": 19}},
        "y": {"field": "v", "type": "quantitative", "scale": {"domain": [-0.04, 0.04], "nice": false, "zero": false},
              "axis": {"values": [-0.04, -0.03, -0.02, -0.01, 0, 0.01, 0.02, 0.03], "labelExpr": "'' + datum.value", "title": "Acceleration (g)", "labelPadding": 15, "titlePadding": 12, "titleFontSize": 18.5}},
        "color": {"field": "s", "type": "nominal", "sort": null,
                  "scale": {"domain": ["Measured", "Hip estimated", "Head estimated"], "range": ["#000000", "#ff4f00", "#0000ff"]},
                  "legend": {"orient": "none", "legendX": 701, "legendY": 16, "title": null, "symbolType": "M-2.5,0H2.5", "symbolSize": 361, "symbolStrokeWidth": 3, "labelFont": "DejaVu Sans", "labelFontSize": 15.7, "labelColor": "#000", "strokeColor": "#777", "fillColor": "white", "padding": 3, "rowPadding": 0, "labelOffset": 20, "symbolOffset": 14}}
      }
    },
    {
      "mark": {"type": "rule", "opacity": 0},
      "encoding": {
        "x": {"datum": 0, "type": "quantitative",
              "axis": {"orient": "top", "title": "Typical estimation of floor acceleration", "domain": false, "ticks": false, "labels": false, "titleFont": "DejaVu Sans", "titleFontWeight": "bold", "titleFontSize": 16, "titlePadding": 0, "titleX": 473}}
      }
    }
  ],
  "resolve": {"axis": {"x": "independent"}}
},
{
  "width": 888, "height": 269,
  "data": {"name": "B"},
  "title": {"text": "B", "anchor": "start", "frame": "bounds", "font": "Liberation Sans", "fontSize": 19, "fontWeight": "bold", "color": "#000", "offset": -8},
  "mark": {"type": "line", "strokeWidth": 2.7, "strokeJoin": "round"},
  "encoding": {
    "x": {"field": "t", "type": "quantitative", "scale": {"domain": [2.7, 3.003], "nice": false, "zero": false},
          "axis": {"values": [2.7, 2.75, 2.8, 2.85, 2.9, 2.95, 3], "labelExpr": "'' + datum.value", "title": "Time (s)", "labelPadding": 14, "titlePadding": 8, "titleFontSize": 19}},
    "y": {"field": "v", "type": "quantitative", "scale": {"domain": [-0.039, 0.039], "nice": false, "zero": false},
          "axis": {"values": [-0.03, -0.02, -0.01, 0, 0.01, 0.02, 0.03], "labelExpr": "'' + datum.value", "title": "Acceleration (g)", "labelPadding": 18, "titlePadding": 10, "titleFontSize": 18}},
    "color": {"field": "s", "type": "nominal", "sort": null,
              "scale": {"domain": ["Measured", "Hip estimated", "Head estimated"], "range": ["#000000", "#ff4f00", "#0000ff"]},
              "legend": null}
  }
}
]
}
